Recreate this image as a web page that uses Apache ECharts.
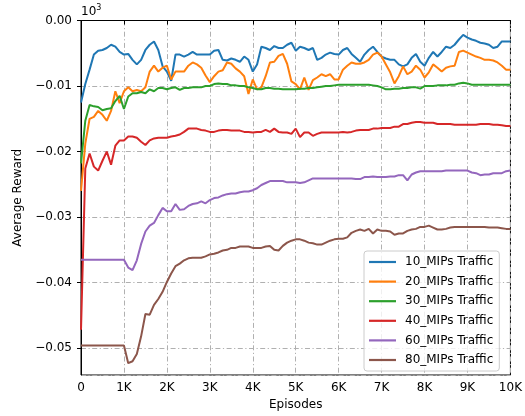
<!DOCTYPE html>
<html>
<head>
<meta charset="utf-8">
<script src="https://cdn.jsdelivr.net/npm/echarts@6/dist/echarts.min.js"></script>
<style>
html,body{margin:0;padding:0;background:#fff;}
#chart{width:525px;height:416px;}
</style>
</head>
<body>
<div id="chart"></div>
<script>
// Episodes sampled every 100 (x positions of samples)
const episodes = [];
for (let e = 0; e <= 10000; e += 100) episodes.push(e);

const seriesNames = ['10_MIPs Traffic','20_MIPs Traffic','30_MIPs Traffic','40_MIPs Traffic','60_MIPs Traffic','80_MIPs Traffic'];
const xTickLabels = ['0','1K','2K','3K','4K','5K','6K','7K','8K','9K','10K'];

const mips10 = [
-12.5,-9.7,-7.5,-5.2,-4.6,-4.5,-4.2,-3.7,-4.0,-4.8,
-5.2,-5.1,-6.0,-6.7,-6.0,-4.5,-3.7,-3.2,-4.5,-7.0,
-7.8,-9.2,-5.2,-5.2,-5.5,-5.2,-4.8,-5.2,-5.2,-5.2,
-5.2,-4.6,-4.5,-6.0,-6.1,-5.8,-6.0,-6.3,-5.5,-6.0,
-7.8,-6.7,-4.0,-4.2,-4.5,-3.9,-4.2,-4.2,-3.7,-3.4,
-4.6,-4.0,-4.2,-4.5,-4.2,-6.0,-5.7,-5.2,-4.9,-5.1,
-5.2,-4.5,-4.2,-5.1,-5.7,-6.3,-5.2,-4.5,-4.0,-4.8,
-5.5,-5.8,-6.0,-6.0,-6.7,-7.0,-6.7,-5.7,-5.1,-6.3,
-6.9,-5.7,-4.8,-5.5,-4.8,-4.0,-4.2,-3.7,-2.9,-2.2,
-2.6,-2.9,-3.1,-3.4,-3.5,-3.7,-4.2,-4.0,-3.2,-3.2,
-3.2];
const mips20 = [
-26.0,-18.8,-15.0,-14.7,-13.8,-14.4,-15.3,-13.8,-10.8,-12.6,
-10.8,-10.2,-10.8,-10.6,-10.8,-10.2,-7.8,-6.9,-7.8,-7.2,
-6.9,-9.0,-7.8,-7.8,-7.8,-6.9,-6.4,-6.7,-7.2,-8.4,
-9.4,-8.5,-7.8,-7.6,-6.4,-6.6,-7.3,-7.8,-8.5,-11.2,
-9.0,-10.5,-10.2,-8.5,-6.4,-6.3,-5.4,-5.1,-6.6,-9.3,
-9.7,-10.5,-8.7,-10.6,-9.1,-8.7,-8.2,-8.5,-8.2,-9.0,
-9.0,-7.5,-6.9,-6.4,-6.6,-6.6,-6.4,-6.0,-5.2,-4.9,
-5.5,-6.7,-7.9,-9.6,-8.5,-7.0,-8.2,-7.8,-6.9,-7.5,
-8.7,-7.9,-6.7,-7.2,-7.8,-7.2,-7.0,-6.9,-4.8,-4.6,
-4.9,-5.2,-5.5,-5.7,-6.0,-6.0,-6.1,-6.4,-6.9,-7.5,
-7.5];
const mips30 = [
-21.8,-15.3,-12.9,-13.1,-13.2,-13.7,-13.5,-13.4,-12.3,-11.5,
-13.5,-11.6,-11.1,-11.1,-10.9,-11.1,-10.5,-10.8,-10.3,-10.3,
-10.5,-10.3,-10.2,-10.6,-10.3,-10.3,-10.2,-10.2,-10.2,-10.0,
-10.0,-9.7,-9.6,-9.7,-9.7,-9.9,-9.9,-10.0,-10.0,-10.2,
-10.3,-10.5,-10.5,-10.3,-10.3,-10.4,-10.4,-10.5,-10.5,-10.5,
-10.5,-10.4,-10.4,-10.3,-10.3,-10.2,-10.1,-10.0,-10.0,-9.9,
-9.8,-9.8,-9.8,-9.8,-9.8,-9.8,-9.8,-9.8,-9.9,-10.0,
-10.2,-10.5,-10.5,-10.4,-10.4,-10.3,-10.3,-10.2,-10.2,-10.4,
-10.0,-10.0,-10.0,-9.9,-9.9,-9.9,-9.8,-9.8,-9.6,-9.5,
-9.6,-9.8,-9.8,-9.8,-9.8,-9.8,-9.8,-9.8,-9.8,-9.8,
-9.8];
const mips40 = [
-47.2,-22.6,-20.3,-22.3,-22.9,-21.4,-20.0,-22.0,-19.1,-18.3,
-18.3,-17.7,-17.7,-17.9,-18.5,-19.0,-18.3,-18.0,-17.9,-17.9,
-17.9,-17.7,-17.6,-17.4,-17.0,-16.5,-16.5,-16.5,-16.7,-16.8,
-17.0,-17.0,-16.8,-16.7,-16.7,-16.8,-16.8,-16.8,-17.0,-17.0,
-17.1,-17.0,-17.0,-16.7,-17.0,-16.5,-17.0,-17.1,-17.1,-17.3,
-16.5,-17.8,-17.1,-17.1,-17.6,-17.3,-17.1,-17.1,-17.1,-17.1,
-17.1,-17.0,-17.1,-17.0,-16.8,-16.7,-16.7,-16.7,-16.5,-16.5,
-16.4,-16.4,-16.4,-16.2,-16.2,-15.8,-15.8,-15.6,-15.5,-15.5,
-15.6,-15.6,-15.6,-15.8,-15.8,-15.8,-15.8,-15.9,-15.9,-15.9,
-15.9,-15.9,-15.9,-15.8,-15.8,-15.8,-15.9,-15.9,-16.0,-16.1,
-16.1];
const mips60 = [
-36.5,-36.5,-36.5,-36.5,-36.5,-36.5,-36.5,-36.5,-36.5,-36.5,
-36.5,-37.7,-38.1,-36.6,-34.1,-32.2,-31.3,-30.9,-29.7,-28.6,
-29.1,-29.1,-28.0,-28.9,-28.8,-28.3,-28.0,-27.9,-27.6,-27.9,
-27.4,-27.1,-27.0,-26.7,-26.5,-26.4,-26.4,-26.2,-26.1,-26.1,
-25.9,-25.6,-25.1,-24.8,-24.5,-24.5,-24.5,-24.5,-24.7,-24.7,
-24.7,-24.8,-24.7,-24.4,-24.1,-24.1,-24.1,-24.1,-24.1,-24.1,
-24.1,-24.1,-24.1,-24.1,-24.2,-24.2,-23.9,-23.9,-23.8,-23.9,
-23.9,-23.9,-23.8,-23.8,-23.6,-23.6,-24.4,-23.5,-23.2,-23.0,
-23.0,-23.0,-23.0,-23.0,-23.0,-22.9,-22.9,-22.9,-22.9,-22.9,
-22.9,-23.2,-23.3,-23.6,-23.5,-23.5,-23.3,-23.3,-23.3,-23.0,
-22.9];
const mips80 = [
-49.6,-49.6,-49.6,-49.6,-49.6,-49.6,-49.6,-49.6,-49.6,-49.6,
-49.6,-52.3,-52.0,-50.9,-48.2,-44.8,-44.9,-43.4,-42.5,-41.4,
-39.9,-38.6,-37.5,-37.1,-36.6,-36.3,-36.2,-36.2,-36.2,-36.0,
-35.7,-35.6,-35.4,-35.1,-35.0,-34.7,-34.7,-34.5,-34.5,-34.5,
-34.7,-34.7,-34.7,-34.5,-34.4,-35.0,-35.1,-34.4,-33.9,-33.6,
-33.4,-33.4,-33.6,-33.9,-34.0,-34.2,-34.2,-33.9,-33.6,-33.4,
-33.3,-33.3,-33.1,-32.4,-32.1,-31.9,-32.1,-31.8,-32.5,-31.9,
-32.1,-32.1,-32.2,-32.7,-32.5,-32.5,-32.1,-31.9,-31.8,-31.5,
-31.5,-31.3,-31.6,-31.9,-31.9,-31.8,-31.6,-31.5,-31.5,-31.5,
-31.5,-31.5,-31.5,-31.5,-31.5,-31.6,-31.6,-31.6,-31.7,-31.8,
-31.8];

const allValues = [mips10, mips20, mips30, mips40, mips60, mips80];
const colors = ['#1f77b4','#ff7f0e','#2ca02c','#d62728','#9467bd','#8c564b'];
const FONT = 'DejaVu Sans';

const chart = echarts.init(document.getElementById('chart'), null, {renderer:'canvas'});
const gridStyle = {color:'#b0b0b0', width:1, type:[5,2.5,1.2,2.5]};

chart.setOption({
  animation:false,
  backgroundColor:'#fff',
  textStyle:{fontFamily:FONT},
  grid:{left:81, right:12, top:20.5, bottom:37, show:true, borderColor:'#000', borderWidth:1, backgroundColor:'transparent'},
  legend:{
    orient:'vertical', left:364, top:251,
    padding:[4,6,4,5], itemGap:5.6,
    icon:'rect', itemWidth:27, itemHeight:2.2,
    borderColor:'#cccccc', borderWidth:1, borderRadius:3,
    backgroundColor:'rgba(255,255,255,0.8)',
    textStyle:{fontFamily:FONT, fontSize:12, color:'#000', padding:[0,0,0,4], lineHeight:14},
    data:seriesNames
  },
  xAxis:{
    type:'value', min:0, max:10000, interval:1000,
    name:'Episodes', nameLocation:'middle', nameGap:24,
    nameTextStyle:{fontFamily:FONT, fontSize:12, color:'#000'},
    axisLine:{lineStyle:{color:'#000', width:1}},
    axisTick:{show:true, length:4, lineStyle:{color:'#000'}},
    axisLabel:{fontFamily:FONT, fontSize:12, color:'#000', margin:7,
      formatter:function(v){ return xTickLabels[Math.round(v/1000)]; }},
    splitLine:{show:true, lineStyle:gridStyle}
  },
  yAxis:{
    type:'value', min:-54.1, max:0, splitNumber:5,
    name:'Average Reward', nameLocation:'middle', nameGap:57,
    nameTextStyle:{fontFamily:FONT, fontSize:12, color:'#000'},
    axisLine:{show:true, lineStyle:{color:'#000', width:1}},
    axisTick:{show:true, length:4, lineStyle:{color:'#000'}},
    axisLabel:{fontFamily:FONT, fontSize:12, color:'#000', margin:9, showMinLabel:false,
      formatter:function(v){
        if (Math.abs(v % 10) > 1e-6) return '';
        const s = (Math.abs(v)/1000).toFixed(2);
        return v < 0 ? '\u2212' + s : s;
      }},
    splitLine:{show:true, lineStyle:gridStyle}
  },
  graphic:[{
    type:'text', left:81, top:4,
    style:{
      text:'{a|10}{b|3}',
      rich:{
        a:{fontFamily:FONT, fontSize:12, fill:'#000', verticalAlign:'bottom'},
        b:{fontFamily:FONT, fontSize:8, fill:'#000', verticalAlign:'top', padding:[0,0,6,0]}
      }
    }
  }],
  series: seriesNames.map(function(name, i){
    return {
      name:name, type:'line', showSymbol:false, symbol:'none',
      data: episodes.map(function(e, k){ return [e, allValues[i][k]]; }),
      lineStyle:{color:colors[i], width:2},
      itemStyle:{color:colors[i]},
      emphasis:{disabled:true}
    };
  })
});
</script>
</body>
</html>
